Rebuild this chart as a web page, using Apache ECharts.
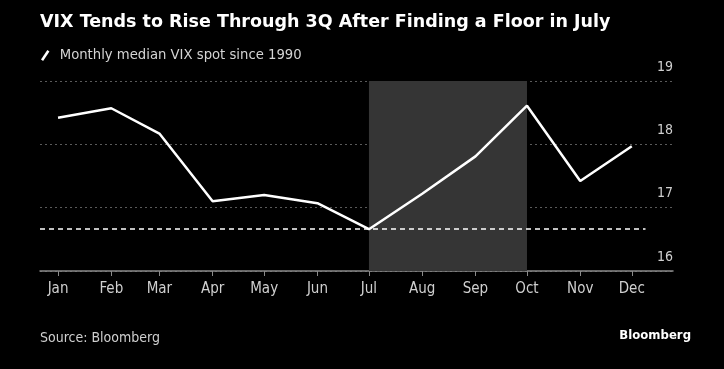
<!DOCTYPE html>
<html>
<head>
<meta charset="utf-8">
<script src="https://cdn.jsdelivr.net/npm/echarts@6/dist/echarts.min.js"></script>
<style>
html,body{margin:0;padding:0;background:#000;}
#c{width:724px;height:369px;}
</style>
</head>
<body>
<div id="c"></div>
<script>
const months = ['Jan','Feb','Mar','Apr','May','Jun','Jul','Aug','Sep','Oct','Nov','Dec'];
const monthStartDay = [0,31,59,90,120,151,181,212,243,273,304,334];
const vixMedian = [18.42,18.57,18.17,17.10,17.20,17.07,16.66,17.22,17.81,18.61,17.42,17.97];
const yTicks = [16,17,18,19];
const floorValue = 16.66;
const shadeFrom = 'Jul', shadeTo = 'Oct';
const floorEndDay = 342;

const FONT = '"DejaVu Sans Condensed", "DejaVu Sans", sans-serif';
const chart = echarts.init(document.getElementById('c'));
const xMin = -10.5, xMax = 358;

chart.setOption({
  backgroundColor: '#000',
  animation: false,
  title: {
    text: 'VIX Tends to Rise Through 3Q After Finding a Floor in July',
    left: 35, top: 8,
    textStyle: {color: '#fff', fontSize: 17.5, fontWeight: 'bold', fontFamily: '"DejaVu Sans", sans-serif'}
  },
  legend: {
    left: 36, top: 43,
    icon: 'path://M0,9 L6,0 L8,1.4 L2,10.4 Z',
    itemWidth: 9, itemHeight: 11, itemGap: 6,
    textStyle: {color: '#d4d4d4', fontSize: 14.7, fontFamily: FONT, padding: [0,0,0,5]},
    data: [{name: 'Monthly median VIX spot since 1990', itemStyle: {color: '#fff'}}]
  },
  graphic: [
    {type: 'text', left: 40, top: 331, style: {text: 'Source: Bloomberg', fill: '#cfcfcf', font: '14px ' + FONT}},
    {type: 'text', right: 33, top: 329, style: {text: 'Bloomberg', fill: '#fff', font: 'bold 13px ' + FONT}}
  ],
  grid: {left: 40, right: 51, top: 81, bottom: 98},
  xAxis: {
    type: 'value', min: xMin, max: xMax,
    axisLine: {show: true, lineStyle: {color: '#8a8a8a', width: 1.5}},
    axisTick: {show: true, length: 5, lineStyle: {color: '#8a8a8a'}, customValues: monthStartDay},
    axisLabel: {
      customValues: monthStartDay,
      margin: 11,
      color: '#cfcfcf', fontSize: 15, fontFamily: FONT,
      formatter: v => months[monthStartDay.indexOf(v)] || ''
    },
    splitLine: {show: false}
  },
  yAxis: {
    type: 'value', min: 16, max: 19, interval: 1, position: 'right',
    axisLine: {show: false}, axisTick: {show: false},
    axisLabel: {
      inside: true, margin: 0, verticalAlign: 'bottom', padding: [0,0,7,0],
      color: '#cfcfcf', fontSize: 14, fontFamily: FONT,
      formatter: v => yTicks.includes(v) ? String(v) : ''
    },
    splitLine: {show: true, lineStyle: {color: '#5a5a5a', type: [2,3], width: 1}}
  },
  series: [{
    name: 'Monthly median VIX spot since 1990',
    type: 'line',
    data: monthStartDay.map((d, i) => [d, vixMedian[i]]),
    symbol: 'none',
    lineStyle: {color: '#fff', width: 2.5},
    itemStyle: {color: '#fff'},
    z: 5,
    markArea: {
      silent: true,
      itemStyle: {color: '#353535'},
      data: [[{xAxis: monthStartDay[months.indexOf(shadeFrom)]}, {xAxis: monthStartDay[months.indexOf(shadeTo)]}]]
    },
    markLine: {
      silent: true, symbol: 'none', label: {show: false},
      lineStyle: {color: '#fff', type: [5,4], width: 1.5},
      data: [[{coord: [xMin, floorValue]}, {coord: [floorEndDay, floorValue]}]]
    }
  }]
});
</script>
</body>
</html>
